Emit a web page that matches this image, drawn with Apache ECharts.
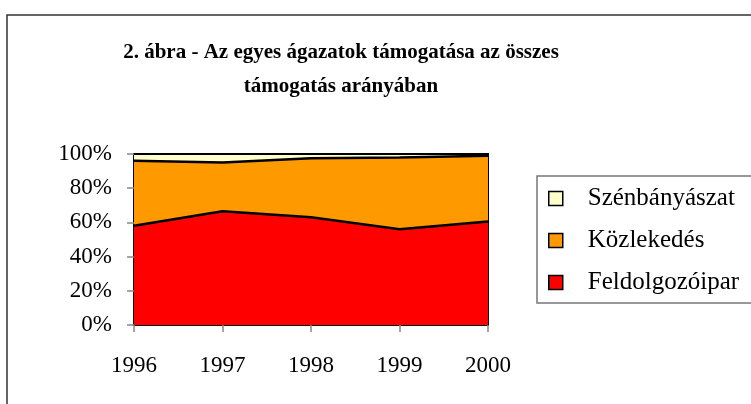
<!DOCTYPE html>
<html>
<head>
<meta charset="utf-8">
<script src="https://cdn.jsdelivr.net/npm/echarts@6/dist/echarts.min.js"></script>
<style>
html, body { margin: 0; padding: 0; background: #fff; }
#container { width: 751px; height: 404px; }
</style>
</head>
<body>
<div id="container"></div>
<script>
var years = ['1996', '1997', '1998', '1999', '2000'];
// részesedés, %
var feldolgozoipar = [58, 66.5, 63, 56, 60.5];
var kozlekedes = [38, 28.5, 34.5, 42, 38.5];
var szenbanyaszat = [4, 5, 2.5, 2, 1];
var yTicks = [0, 20, 40, 60, 80, 100];

var serif = "'Liberation Serif', 'Times New Roman', serif";
var container = document.getElementById('container');
var charts = echarts.init(container);

function areaSeries(name, values, color, border) {
    return {
        name: name,
        type: 'line',
        stack: 'osszes',
        data: values,
        showSymbol: false,
        symbol: 'none',
        lineStyle: { color: '#000', width: border },
        areaStyle: { color: color, opacity: 1 },
        itemStyle: { color: color, borderColor: '#000', borderWidth: 1 }
    };
}

var option = {
    animation: false,
    title: {
        text: '2. ábra - Az egyes ágazatok támogatása az összes\ntámogatás arányában',
        left: 336,
        top: 31,
        textAlign: 'center',
        textStyle: { fontFamily: serif, fontSize: 21, fontWeight: 'bold', color: '#000', lineHeight: 34 }
    },
    graphic: [{
        type: 'rect',
        shape: { x: 7, y: 15, width: 800, height: 500 },
        style: { fill: 'none', stroke: '#333', lineWidth: 1.5 },
        silent: true
    }],
    legend: {
        orient: 'vertical',
        left: 537,
        top: 176,
        padding: [10, 30, 8, 11],
        itemGap: 17,
        itemWidth: 14,
        itemHeight: 14,
        icon: 'rect',
        borderColor: '#777',
        borderWidth: 1.5,
        backgroundColor: '#fff',
        data: ['Szénbányászat', 'Közlekedés', 'Feldolgozóipar'],
        itemStyle: { borderColor: '#000', borderWidth: 1.5 },
        textStyle: { fontFamily: serif, fontSize: 25, lineHeight: 25, color: '#000', padding: [0, 0, 0, 20] }
    },
    grid: {
        left: 134, right: 263, top: 154, bottom: 79,
        show: true, borderColor: '#000', borderWidth: 2, backgroundColor: 'transparent'
    },
    xAxis: {
        type: 'category',
        data: years,
        boundaryGap: false,
        axisLine: { lineStyle: { color: '#000', width: 2 } },
        axisTick: { show: true, length: 7, lineStyle: { color: '#888', width: 1.5 } },
        axisLabel: { fontFamily: serif, fontSize: 23, color: '#000', margin: 29 },
        splitLine: { show: false }
    },
    yAxis: {
        type: 'value',
        min: yTicks[0],
        max: yTicks[yTicks.length - 1],
        interval: yTicks[1] - yTicks[0],
        axisLine: { show: true, lineStyle: { color: '#000', width: 2 } },
        axisTick: { show: true, length: 7, lineStyle: { color: '#888', width: 1.5 } },
        axisLabel: { fontFamily: serif, fontSize: 23, color: '#000', margin: 22, formatter: '{value}%' },
        splitLine: { show: false }
    },
    series: [
        areaSeries('Feldolgozóipar', feldolgozoipar, '#FF0000', 2.5),
        areaSeries('Közlekedés', kozlekedes, '#FF9900', 2.5),
        areaSeries('Szénbányászat', szenbanyaszat, '#FFFFCC', 2)
    ]
};

charts.setOption(option, true);
</script>
</body>
</html>
